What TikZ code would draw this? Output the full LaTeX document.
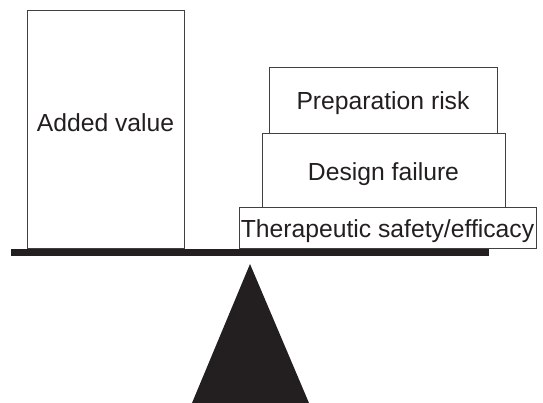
\documentclass[tikz,border=0pt]{standalone}
\usepackage{fontspec}
\setmainfont{Liberation Sans}
\definecolor{ink}{HTML}{231F20}

\newcommand{\weight}[7]{
\draw[slab] (#2, #3) rectangle (#4, #5);
\node[word, anchor=base] (#1) at ({(#2+#4)/2}, #6) {#7};
}

\begin{document}
\begin{tikzpicture}[x=1pt, y=-1pt,
  slab/.style={draw=black!75, line width=0.9pt},
  word/.style={inner sep=0pt, text=ink, font=\fontsize{24.7pt}{29pt}\selectfont}]
\useasboundingbox (0,0) rectangle (543,403);
% left pan
\weight{value}{27}{10.5}{184}{248.5}{132}{Added value}
% right pan, stacked from the bottom up
\weight{safety}{239}{207}{536}{248.5}{237}{Therapeutic safety/efficacy}
\weight{design}{262}{133}{505}{207}{181}{Design failure}
\weight{prep}{269}{67}{497}{133}{110}{Preparation risk}
% beam and fulcrum
\fill[ink] (11, 249) rectangle (489, 256.5);
\fill[ink] (250, 264) -- (192, 403) -- (309, 403) -- cycle;
\end{tikzpicture}
\end{document}
